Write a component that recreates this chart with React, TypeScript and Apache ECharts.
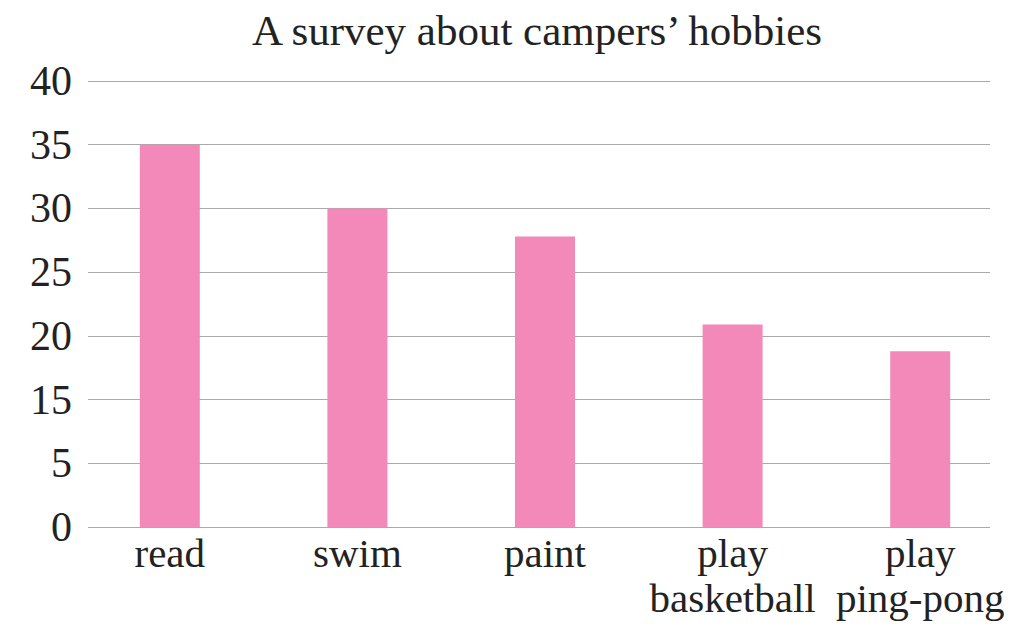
import React, { useEffect, useRef } from "react";
import * as echarts from "echarts";

// Chart data as printed
const categories = ["read", "swim", "paint", "play\nbasketball", "play\nping-pong"];
const campers = [35, 30, 27.8, 20.9, 18.8];
// Tick labels as printed on the y axis (evenly spaced gridlines)
const tickLabels = [0, 5, 15, 20, 25, 30, 35, 40];
const titleText = "A survey about campers’ hobbies";

// Locate a printed value on the printed (evenly spaced) tick scale
function toTickPosition(v: number): number {
  for (let i = 0; i < tickLabels.length - 1; i++) {
    const a = tickLabels[i];
    const b = tickLabels[i + 1];
    if (v >= a && v <= b) return i + (v - a) / (b - a);
  }
  return tickLabels.length - 1;
}

const FONT = "Liberation Serif";

export default function App() {
  const ref = useRef<HTMLDivElement>(null);

  useEffect(() => {
    if (!ref.current) return;
    const chart = echarts.init(ref.current, undefined, { renderer: "svg" });
    const maxIdx = tickLabels.length - 1;
    chart.setOption({
      animation: false,
      backgroundColor: "#ffffff",
      title: {
        text: titleText,
        left: 252,
        top: 9,
        padding: 0,
        textStyle: {
          fontFamily: FONT,
          fontSize: 43,
          fontWeight: "normal",
          color: "#222222",
        },
      },
      grid: [
        { left: 76, width: 938, top: 81, height: 446 },
        { left: 88, width: 902, top: 81, height: 446 },
      ],
      xAxis: [
        {
          type: "category",
          gridIndex: 0,
          data: categories,
          axisLine: { show: false },
          axisTick: { show: false },
          axisLabel: {
            margin: 3,
            fontFamily: FONT,
            fontSize: 41,
            lineHeight: 45,
            color: "#222222",
            interval: 0,
          },
        },
        {
          type: "category",
          gridIndex: 1,
          data: categories,
          show: false,
        },
      ],
      yAxis: [
        {
          type: "value",
          gridIndex: 0,
          min: 0,
          max: maxIdx,
          interval: 1,
          show: false,
          splitLine: { show: false },
        },
        {
          type: "value",
          gridIndex: 1,
          min: 0,
          max: maxIdx,
          interval: 1,
          axisLine: { show: false },
          axisTick: { show: false },
          axisLabel: {
            margin: 16,
            fontFamily: FONT,
            fontSize: 42,
            color: "#222222",
            formatter: (v: number) => String(tickLabels[Math.round(v)] ?? ""),
          },
          splitLine: { lineStyle: { color: "#aaaaaa", width: 1 } },
        },
      ],
      series: [
        {
          type: "bar",
          xAxisIndex: 0,
          yAxisIndex: 0,
          barWidth: 60,
          data: campers.map(toTickPosition),
          itemStyle: { color: "#f389b8" },
          z: 3,
        },
      ],
    });
    return () => chart.dispose();
  }, []);

  return (
    <div
      ref={ref}
      style={{ position: "fixed", left: 0, top: 0, width: 1031, height: 633 }}
    />
  );
}
